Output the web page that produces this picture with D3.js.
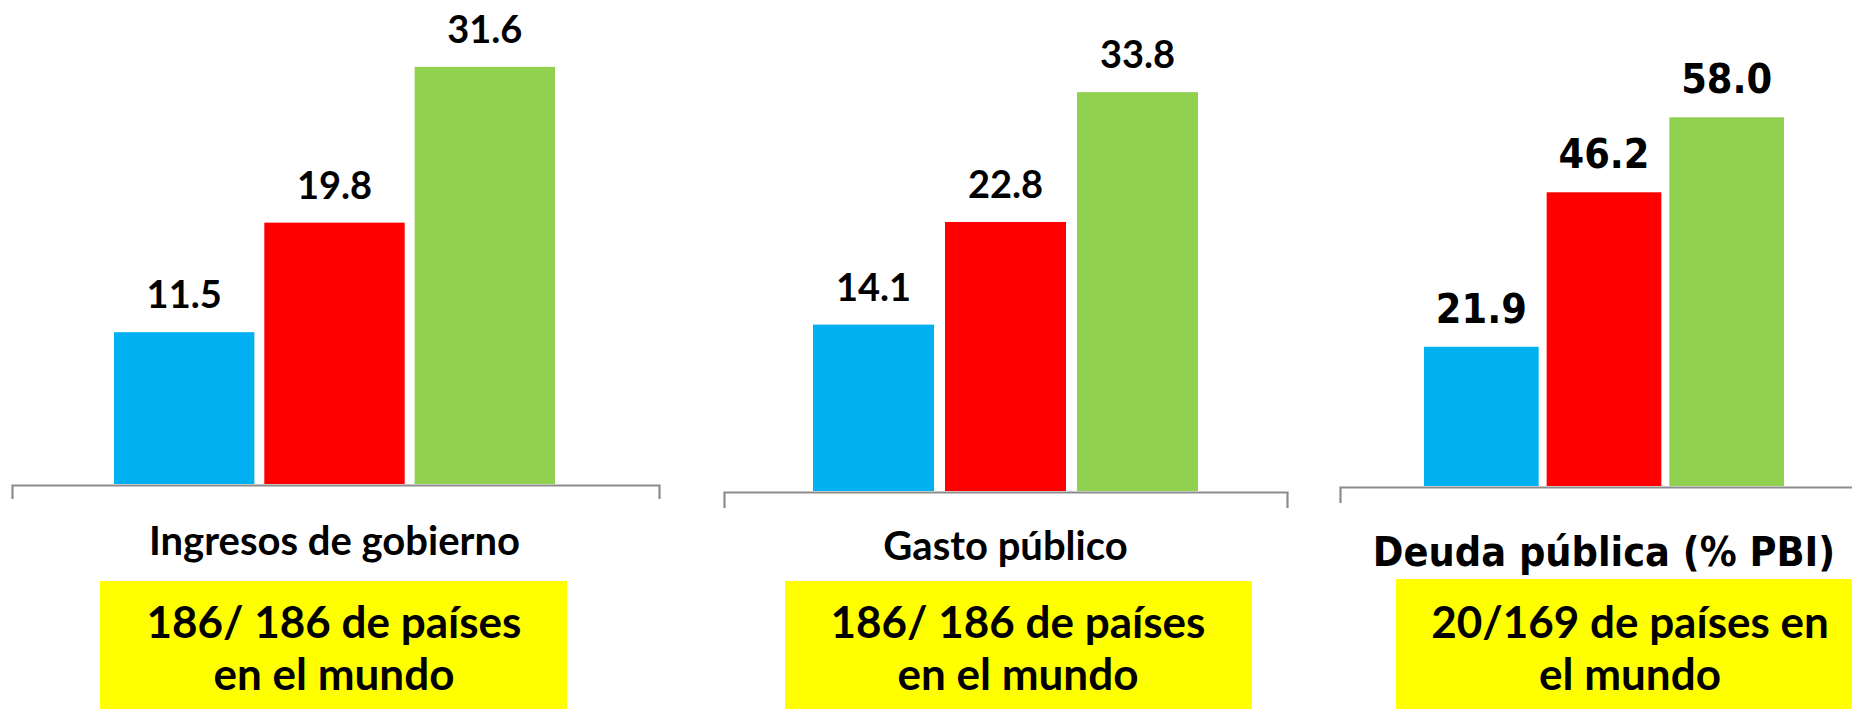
<!DOCTYPE html>
<html>
<head>
<meta charset="utf-8">
<script src="https://cdn.jsdelivr.net/npm/d3@7"></script>
<style>
    body { margin: 0; background: #fff; }
    svg { display: block; }
    text { font-family: Lato, "Open Sans", sans-serif; font-weight: bold; fill: #000; }
    text.wide { font-family: "DejaVu Sans Condensed", "DejaVu Sans", sans-serif; }
</style>
</head>
<body>
<svg id="chart" width="1852" height="709"></svg>
<script>
    // Data
    var categories = ['Ingresos de gobierno', 'Gasto público', 'Deuda pública (% PBI)'];
    var seriesBlue = [11.5, 14.1, 21.9];
    var seriesRed = [19.8, 22.8, 46.2];
    var seriesGreen = [31.6, 33.8, 58.0];
    var notes = [
        ['186/ 186 de países', 'en el mundo'],
        ['186/ 186 de países', 'en el mundo'],
        ['20/169 de países en', 'el mundo']
    ];

    var COLORS = ['#00B0F0', '#FF0000', '#92D050'],
        AXIS_COLOR = '#8C8C8C',
        NOTE_COLOR = '#FFFF00';

    // Layout of each small chart (one per category)
    var PANELS = [
        { axis: [12, 659], bars: [114, 555], base: 484, top: 22, yMax: 35, pad: 0.066, wide: false,
          tick: 14, valueSize: 38, labelSize: 40, labelY: 555, note: [100, 567, 581], noteX: 334 },
        { axis: [724, 1287], bars: [813, 1198], base: 491, top: 19, yMax: 40, pad: 0.083, wide: false,
          tick: 16, valueSize: 38, labelSize: 40, labelY: 560, note: [785, 1252, 581], noteX: 1018 },
        { axis: [1340, 1868], bars: [1424, 1784], base: 486, top: 41, yMax: 70, pad: 0.065, wide: true,
          tick: 16, valueSize: 41, labelSize: 41, labelY: 566, note: [1396, 1864, 579], noteX: 1630 }
    ];

    var format = d3.format('.1f');
    var svg = d3.select('#chart');

    categories.forEach(function(category, i) {
        var p = PANELS[i];
        var values = [seriesBlue[i], seriesRed[i], seriesGreen[i]];
        var g = svg.append('g').attr('class', 'panel');

        var x = d3.scaleBand()
            .domain(d3.range(values.length))
            .range(p.bars)
            .paddingInner(p.pad)
            .paddingOuter(0);

        var y = d3.scaleLinear()
            .domain([0, p.yMax])
            .range([p.base, p.top]);

        // Bars
        g.selectAll('rect.bar')
            .data(values)
            .enter()
            .append('rect')
            .attr('class', 'bar')
            .attr('x', function(d, j) { return x(j); })
            .attr('y', function(d) { return y(d); })
            .attr('width', x.bandwidth())
            .attr('height', function(d) { return y(0) - y(d); })
            .attr('fill', function(d, j) { return COLORS[j]; });

        // Value labels on top of bars
        g.selectAll('text.value')
            .data(values)
            .enter()
            .append('text')
            .attr('class', 'value')
            .classed('wide', p.wide)
            .attr('x', function(d, j) { return x(j) + x.bandwidth() / 2; })
            .attr('y', function(d) { return y(d) - 24; })
            .attr('text-anchor', 'middle')
            .attr('font-size', p.valueSize)
            .text(function(d) { return format(d); });

        // Category axis: only the domain line with end ticks
        var axisScale = d3.scaleLinear().range(p.axis);
        var axis = g.append('g')
            .attr('transform', 'translate(0,' + (p.base + 1) + ')')
            .call(d3.axisBottom(axisScale).tickValues([]).tickSizeOuter(p.tick));
        axis.select('.domain')
            .attr('stroke', AXIS_COLOR)
            .attr('stroke-width', 2.2);

        g.append('text')
            .attr('class', 'category')
            .classed('wide', p.wide)
            .attr('x', (p.bars[0] + p.bars[1]) / 2)
            .attr('y', p.labelY)
            .attr('text-anchor', 'middle')
            .attr('font-size', p.labelSize)
            .text(category);

        // Yellow note box under each chart
        g.append('rect')
            .attr('x', p.note[0])
            .attr('y', p.note[2])
            .attr('width', p.note[1] - p.note[0])
            .attr('height', 709 - p.note[2] + 5)
            .attr('fill', NOTE_COLOR);

        g.selectAll('text.note')
            .data(notes[i])
            .enter()
            .append('text')
            .attr('class', 'note')
            .attr('x', p.noteX)
            .attr('y', function(d, k) { return 638 + k * 52; })
            .attr('text-anchor', 'middle')
            .attr('font-size', 44)
            .text(function(d) { return d; });
    });
</script>
</body>
</html>
